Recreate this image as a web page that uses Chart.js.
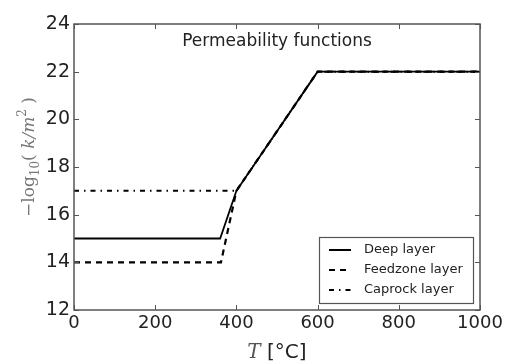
<!DOCTYPE html>
<html>
<head>
<meta charset="utf-8">
<script src="https://cdn.jsdelivr.net/npm/chart.js@4"></script>
<style>
  html, body { margin: 0; padding: 0; background: #fff; }
  #wrap { width: 511px; height: 363px; }
</style>
</head>
<body>
<div id="wrap"><canvas id="graph" width="511" height="363"></canvas></div>
<script>
// temperatures (°C) and -log10(k) for each layer
const deepT = [0, 360, 400, 600, 1000]
const deepK = [15, 15, 17, 22, 22]
const feedT = [0, 362, 400, 600, 1000]
const feedK = [14, 14, 17, 22, 22]
const capT = [0, 400, 600, 1000]
const capK = [17, 17, 22, 22]
const layerNames = ['Deep layer', 'Feedzone layer', 'Caprock layer']
const xTicks = [0, 200, 400, 600, 800, 1000]
const yTicks = [12, 14, 16, 18, 20, 22, 24]
const chartTitle = 'Permeability functions'

function toPoints(xs, ys){
    return xs.map((x, i) => ({ x: x, y: ys[i] }))
}

const frameColor = '#555'

const extras = {
    id: 'extras',
    afterDraw(chart){
        const ctx = chart.ctx
        const a = chart.chartArea
        const xs = chart.scales.x
        const ys = chart.scales.y
        ctx.save()
        // frame
        ctx.strokeStyle = frameColor
        ctx.lineWidth = 1.5
        ctx.strokeRect(a.left, a.top, a.right - a.left, a.bottom - a.top)
        // inward ticks on all sides
        ctx.lineWidth = 1
        ctx.beginPath()
        for (const t of xTicks){
            const px = Math.round(xs.getPixelForValue(t)) + 0.5
            ctx.moveTo(px, a.bottom); ctx.lineTo(px, a.bottom - 5)
            ctx.moveTo(px, a.top); ctx.lineTo(px, a.top + 5)
        }
        for (const t of yTicks){
            const py = Math.round(ys.getPixelForValue(t)) + 0.5
            ctx.moveTo(a.left, py); ctx.lineTo(a.left + 5, py)
            ctx.moveTo(a.right, py); ctx.lineTo(a.right - 5, py)
        }
        ctx.stroke()

        // title inside the axes
        ctx.fillStyle = '#222'
        ctx.font = '17px "DejaVu Sans"'
        ctx.textAlign = 'center'
        ctx.textBaseline = 'middle'
        ctx.fillText(chartTitle, (a.left + a.right) / 2, a.top + 18)

        // x axis title: T [°C]
        ctx.textBaseline = 'alphabetic'
        ctx.textAlign = 'left'
        ctx.font = 'italic 20px "DejaVu Serif"'
        const tW = ctx.measureText('T').width
        ctx.font = '20px "DejaVu Sans"'
        const rW = ctx.measureText(' [°C]').width
        let sx = (a.left + a.right) / 2 - (tW + rW) / 2
        ctx.font = 'italic 20px "DejaVu Serif"'
        ctx.fillStyle = '#555'
        ctx.fillText('T', sx, 358)
        ctx.fillStyle = '#222'
        ctx.font = '20px "DejaVu Sans"'
        ctx.fillText(' [°C]', sx + tW, 358)

        // y axis title: -log10( k/m^2 )
        ctx.translate(34, 157)
        ctx.rotate(-Math.PI / 2)
        ctx.fillStyle = '#777'
        const parts = [
            { t: '\u2212log', f: '17px "DejaVu Serif"', dy: 0 },
            { t: '10', f: '12px "DejaVu Serif"', dy: 5 },
            { t: '( ', f: '17px "DejaVu Serif"', dy: 0 },
            { t: 'k/m', f: 'italic 17px "DejaVu Serif"', dy: 0 },
            { t: '2', f: '12px "DejaVu Serif"', dy: -8 },
            { t: ' )', f: '17px "DejaVu Serif"', dy: 0 }
        ]
        let total = 0
        for (const p of parts){ ctx.font = p.f; p.w = ctx.measureText(p.t).width; total += p.w }
        let cx = -total / 2
        for (const p of parts){
            ctx.font = p.f
            ctx.fillText(p.t, cx, p.dy)
            cx += p.w
        }
        ctx.restore()

        // legend box
        ctx.save()
        const lx = 319, ly = 237, lw = 154, lh = 66
        ctx.fillStyle = '#fff'
        ctx.fillRect(lx, ly, lw, lh)
        ctx.strokeStyle = frameColor
        ctx.lineWidth = 1.2
        ctx.strokeRect(lx + 0.5, ly + 0.5, lw, lh)
        chart.data.datasets.forEach((ds, i) => {
            const yy = ly + 13 + i * 20
            ctx.strokeStyle = '#000'
            ctx.lineWidth = 2
            ctx.setLineDash(ds.borderDash || [])
            ctx.beginPath()
            ctx.moveTo(lx + 10, yy); ctx.lineTo(lx + 32, yy)
            ctx.stroke()
            ctx.setLineDash([])
            ctx.fillStyle = '#222'
            ctx.font = '13px "DejaVu Sans"'
            ctx.textAlign = 'left'
            ctx.textBaseline = 'middle'
            ctx.fillText(ds.label, lx + 45, yy)
        })
        ctx.restore()
    }
}

const ctx = document.getElementById('graph').getContext('2d')
const myChart = new Chart(ctx, {
    type: 'line',
    data: {
        datasets: [
            { label: layerNames[0], data: toPoints(deepT, deepK), borderColor: '#000', borderWidth: 1.8, pointRadius: 0, fill: false },
            { label: layerNames[1], data: toPoints(feedT, feedK), borderColor: '#000', borderWidth: 2.2, borderDash: [6, 5], pointRadius: 0, fill: false },
            { label: layerNames[2], data: toPoints(capT, capK), borderColor: '#000', borderWidth: 2, borderDash: [5, 5, 1.5, 5], pointRadius: 0, fill: false }
        ]
    },
    options: {
        responsive: false,
        animation: false,
        layout: { padding: { top: 24, right: 31, left: 0, bottom: 0 } },
        plugins: { legend: { display: false }, title: { display: false }, tooltip: { enabled: false } },
        scales: {
            x: {
                type: 'linear', min: 0, max: 1000,
                afterBuildTicks: s => { s.ticks = xTicks.map(v => ({ value: v })) },
                afterFit: s => { s.height = 53 },
                grid: { display: false, drawTicks: false },
                border: { display: false },
                ticks: { color: '#222', font: { family: 'DejaVu Sans', size: 18 }, padding: 3, maxRotation: 0,
                    callback: v => String(v) }
            },
            y: {
                min: 12, max: 24,
                afterBuildTicks: s => { s.ticks = yTicks.map(v => ({ value: v })) },
                afterFit: s => { s.width = 74 },
                grid: { display: false, drawTicks: false },
                border: { display: false },
                ticks: { color: '#222', font: { family: 'DejaVu Sans', size: 19 }, padding: 4,
                    callback: v => String(v) }
            }
        }
    },
    plugins: [extras]
})
</script>
</body>
</html>
